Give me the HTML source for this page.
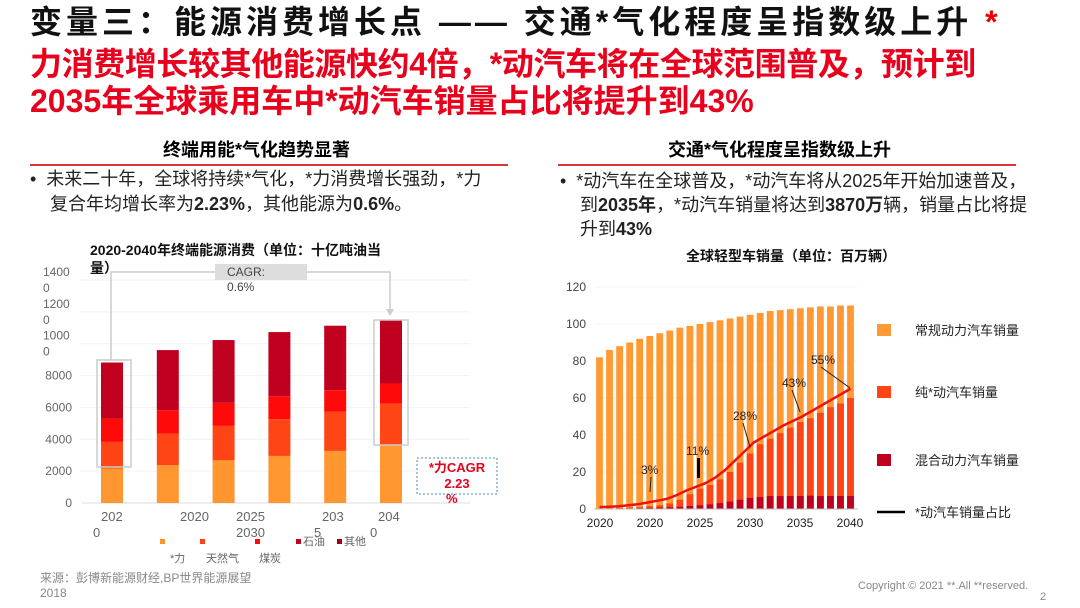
<!DOCTYPE html>
<html><head><meta charset="utf-8">
<style>
body{margin:0;width:1080px;height:608px;overflow:hidden;background:#fff;font-family:"Liberation Sans","Noto Sans CJK SC",sans-serif;position:relative}
.t{position:absolute;white-space:nowrap}
.h{font-weight:bold;font-size:32px;line-height:37px;left:30px}
.sub{font-weight:bold;font-size:18px;top:136px}
.bul{font-size:18px;line-height:25px;color:#222}
svg text{font-family:"Liberation Sans","Noto Sans CJK SC",sans-serif}
</style></head><body>
<div class="t h" style="top:4px;color:#111;letter-spacing:4px">变量三：能源消费增长点 —— 交通*气化程度呈指数级上升 <span style="color:#e00">*</span></div>
<div class="t h" style="top:46px;color:#e8001c;letter-spacing:-0.4px">力消费增长较其他能源快约4倍，*动汽车将在全球范围普及，预计到</div>
<div class="t h" style="top:83px;color:#e8001c">2035年全球乘用车中*动汽车销量占比将提升到43%</div>
<div class="t sub" style="left:163px">终端用能*气化趋势显著</div>
<div class="t sub" style="left:668px">交通*气化程度呈指数级上升</div>
<div class="t" style="left:30px;top:164px;width:478px;height:2px;background:#d33"></div>
<div class="t" style="left:558px;top:164px;width:458px;height:2px;background:#d33"></div>
<div class="t bul" style="left:30px;top:167px">•&nbsp; 未来二十年，全球将持续*气化，*力消费增长强劲，*力<br>&nbsp;&nbsp;&nbsp; 复合年均增长率为<b>2.23%</b>，其他能源为<b>0.6%</b>。</div>
<div class="t bul" style="left:560px;top:169px;line-height:24px">•&nbsp; *动汽车在全球普及，*动汽车将从2025年开始加速普及，<br>&nbsp;&nbsp;&nbsp; 到<b>2035年</b>，*动汽车销量将达到<b>3870万</b>辆，销量占比将提<br>&nbsp;&nbsp;&nbsp; 升到<b>43%</b></div>
<div class="t" style="left:90px;top:241px;font-size:14px;font-weight:bold;line-height:18px;color:#111">2020-2040年终端能源消费（单位：十亿吨油当<br>量）</div>
<div class="t" style="left:686px;top:246px;font-size:14px;font-weight:bold;color:#111">全球轻型车销量（单位：百万辆）</div>
<svg id="L" width="1080" height="608" style="position:absolute;left:0;top:0"></svg>
<svg id="R" width="1080" height="608" style="position:absolute;left:0;top:0"></svg>
<div class="t" style="left:40px;top:571px;font-size:12px;color:#888;line-height:15px">来源：彭博新能源财经,BP世界能源展望<br>2018</div>
<div class="t" style="left:858px;top:580px;font-size:11px;color:#888">Copyright © 2021 **.All **reserved.</div>
<div class="t" style="left:1040px;top:591px;font-size:11px;color:#888">2</div>
<script>
const NS='http://www.w3.org/2000/svg';
// Left chart data
const lYears=['2020','2025','2030','2035','2040','2040b'];
const lElec=[2160,2370,2680,2955,3270,3630];
const lGas=[1675,1990,2160,2305,2470,2620];
const lCoal=[1465,1470,1450,1450,1340,1250];
const lOil=[3520,3770,3940,4020,4050,3990];
const lTicks=['0','2000','4000','6000','8000','1000\n0','1200\n0','1400\n0'];
// Right chart data
const rTotal=[82,86,88,90,92,93.5,95,96.5,98,99,100,101,102,103,104,105,106,107,107.5,108,108.5,109,109.5,109.5,110,110];
const rBev=[0.3,0.4,0.6,0.8,1,1.5,2,3,5,8,11,13,16,20,25,30,35,38,41,44,47,49,52,55,57,60];
const rHyb=[0.1,0.2,0.2,0.3,0.4,0.6,0.8,1,1.2,1.6,2,2.5,3.2,4,5,6,6.5,7,7,7,7,7.2,7,7,7,7];
const rShare=[1,1.2,1.5,2,2.6,3.5,4.5,5.5,7.5,10,12,14,17,21,26,31,36,39,42,45,47.5,50,53,56,59,62,65];
const rTicks=[0,20,40,60,80,100,120];
const rXLabels=['2020','2020','2025','2030','2035','2040'];
function mk(p,tag,a,txt){const e=document.createElementNS(NS,tag);for(const k in a)e.setAttribute(k,a[k]);if(txt!==undefined)e.textContent=txt;p.appendChild(e);return e;}
// LEFT
const L=document.getElementById('L');
const ly=v=>503-v*(223/14000), lx=i=>112+i*55.8;
lTicks.forEach((t,i)=>{const y=ly(i*2000);
 if(i>0){const g=mk(L,'line',{x1:80,x2:470,y1:y,y2:y,stroke:'#f2f2f2'});}
 const parts=t.split('\n');parts.forEach((p,j)=>{const e=mk(L,'text',{x:parts.length>1?43:72,y:y+4+j*16-(parts.length>1?8:0),'font-size':12,fill:'#666','text-anchor':parts.length>1?'start':'end'},p);});
});
mk(L,'line',{x1:82,x2:470,y1:503,y2:503,stroke:'#ddd'});
const lcol=['#ff9630','#ff4516','#ff0a0a','#c0001f'];
lElec.forEach((_,i)=>{let base=0;[lElec,lGas,lCoal,lOil].forEach((s,k)=>{const v=s[i];const r=mk(L,'rect',{x:lx(i)-11,y:ly(base+v),width:22,height:ly(base)-ly(base+v),fill:lcol[k]});base+=v;});});
mk(L,'rect',{x:97,y:360,width:34,height:107,fill:'none',stroke:'#ccc','stroke-width':1.5});
mk(L,'rect',{x:374,y:320,width:34,height:125,fill:'none',stroke:'#ccc','stroke-width':1.5});
mk(L,'polyline',{points:'111,360 111,272 390,272 390,312',fill:'none',stroke:'#ccc','stroke-width':1.5});
mk(L,'polygon',{points:'386,309 394,309 390,316',fill:'#ccc'});
mk(L,'rect',{x:215,y:264,width:92,height:16,fill:'#ddd'});
mk(L,'text',{x:227,y:276,'font-size':12,fill:'#444'},'CAGR:');
mk(L,'text',{x:227,y:291,'font-size':12,fill:'#444'},'0.6%');
mk(L,'rect',{x:417,y:458,width:80,height:36,fill:'none',stroke:'#4a86c5','stroke-dasharray':'2,2'});
mk(L,'text',{x:457,y:472,'font-size':13,'font-weight':'bold',fill:'#e8001c','text-anchor':'middle'},'*力CAGR');
mk(L,'text',{x:457,y:488,'font-size':13,'font-weight':'bold',fill:'#e8001c','text-anchor':'middle'},'2.23');
mk(L,'text',{x:446,y:503,'font-size':13,'font-weight':'bold',fill:'#e8001c'},'%');
[['202','0',101],['2020','',180],['2025','2030',236],['203','5',322],['204','0',378]].forEach(l=>{const e=mk(L,'text',{x:l[2],y:521,'font-size':13,fill:'#666'},l[0]);if(l[1])mk(L,'text',{x:l[2]+(l[1].length>1?0:-8),y:537,'font-size':13,fill:'#666'},l[1]);});
[[160,'#ff9630','',170,'*力'],[200,'#ff4516','',206,'天然气'],[255,'#ff0a0a','',259,'煤炭'],[296,'#c0001f','石油'],[337,'#a0001a','其他']].forEach(g=>{const r=mk(L,'rect',{x:g[0],y:539,width:5,height:5,fill:g[1]});if(g[2])mk(L,'text',{x:g[0]+7,y:545,'font-size':11,fill:'#666'},g[2]);else mk(L,'text',{x:g[3],y:562,'font-size':11,fill:'#666'},g[4]);});
// RIGHT
const R=document.getElementById('R');
const ry=v=>509-v*(222/120), rx=i=>599.5+i*10.04;
rTicks.forEach(t=>{const y=ry(t);if(t>0)mk(R,'line',{x1:595,x2:858,y1:y,y2:y,stroke:'#eee','stroke-dasharray':'1,1'});const e=mk(R,'text',{x:586,y:y+4,'font-size':12,fill:'#444','text-anchor':'end'},t);});
rTotal.forEach((t,i)=>{const x=rx(i)-3.4;
 const a=mk(R,'rect',{x,y:ry(t),width:6.8,height:ry(0)-ry(t),fill:'#ff9933'});
 const b=mk(R,'rect',{x,y:ry(rBev[i]),width:6.8,height:ry(0)-ry(rBev[i]),fill:'#ff4516'});
 const c=mk(R,'rect',{x,y:ry(rHyb[i]),width:6.8,height:ry(0)-ry(rHyb[i]),fill:'#c0001f'});});
mk(R,'line',{x1:594,x2:858,y1:509,y2:509,stroke:'#bbb'});
let pts=rShare.map((v,i)=>`${599.5+i*(251/(rShare.length-1))},${ry(v)}`).join(' ');
const pl=mk(R,'polyline',{points:pts,fill:'none',stroke:'#ee1111','stroke-width':2.5});
mk(R,'rect',{x:697,y:458,width:3,height:20,fill:'#000'});
[['3%',641,474,650,492],['11%',686,455,0,0],['28%',733,420,750,447],['43%',782,387,800,412],['55%',811,364,850,388]].forEach(a=>{mk(R,'text',{x:a[1],y:a[2],'font-size':12,fill:'#222'},a[0]);if(a[3])mk(R,'line',{x1:a[1]+10,y1:a[2]+3,x2:a[3],y2:a[4],stroke:'#222'});});
rXLabels.forEach((l,i)=>{const e=mk(R,'text',{x:600+i*50,y:527,'font-size':12,fill:'#222','text-anchor':'middle'},l);});
[[330,'#ff9933','常规动力汽车销量'],[392,'#ff4516','纯*动汽车销量'],[460,'#c0001f','混合动力汽车销量']].forEach(g=>{const r=mk(R,'rect',{x:877,y:g[0]-6,width:14,height:12,fill:g[1]});mk(R,'text',{x:915,y:g[0]+5,'font-size':13,fill:'#222'},g[2]);});
mk(R,'line',{x1:877,x2:905,y1:512,y2:512,stroke:'#000','stroke-width':2.5});
mk(R,'text',{x:915,y:517,'font-size':13,fill:'#222'},'*动汽车销量占比');
</script>
</body></html>
